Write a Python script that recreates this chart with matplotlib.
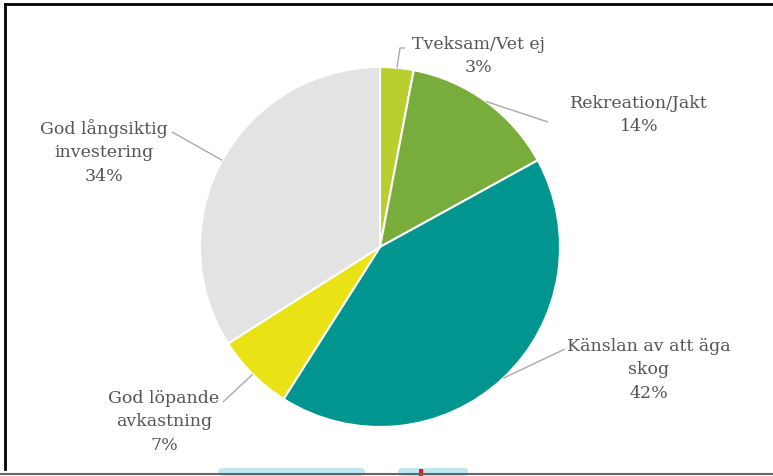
import numpy as np
import matplotlib.pyplot as plt
from matplotlib.patches import Rectangle, FancyBboxPatch

# slice data, clockwise from 12 o'clock
labels = ['Tveksam/Vet ej', 'Rekreation/Jakt', 'Känslan av att äga\nskog',
          'God löpande\navkastning', 'God långsiktig\ninvestering']
values = [3, 14, 42, 7, 34]
colors = ['#b9cf2f', '#79ad3b', '#00968f', '#e9e214', '#e3e3e3']

# label text anchors and leader-line end points (image pixels)
label_pos = [(478, 56), (639, 115), (649, 370), (164, 422), (104, 152)]
leader_end = [[(400, 49), (405, 49)], [(548, 123)], [(565, 350)],
              [(223, 403)], [(172, 133)]]

W, H = 773, 477
CX, CY, R = 380, 248, 180

fig = plt.figure(figsize=(W / 100, H / 100), dpi=100)
ax = fig.add_axes([0, 0, 1, 1])


def py(y):
    # image y (top-down) to axes y
    return H - y


wedges, _ = ax.pie(values, colors=colors, startangle=90, counterclock=False,
                   center=(CX, py(CY)), radius=R, frame=True,
                   wedgeprops=dict(edgecolor='white', linewidth=1.5))
ax.set_xlim(0, W)
ax.set_ylim(0, H)
ax.axis('off')

pcts = [f'{v}%' for v in values]
for w, lab, pct, pos, ends in zip(wedges, labels, pcts, label_pos, leader_end):
    mid = np.deg2rad((w.theta1 + w.theta2) / 2)
    x0 = CX + R * np.cos(mid)
    y0 = py(CY) + R * np.sin(mid)
    xs = [x0] + [e[0] for e in ends]
    ys = [y0] + [py(e[1]) for e in ends]
    ax.plot(xs, ys, color='#aaaaaa', lw=1, solid_capstyle='butt', zorder=3)
    ax.text(pos[0], py(pos[1]), lab + '\n' + pct, ha='center', va='center',
            fontsize=12.5, family='DejaVu Serif', color='#555555',
            linespacing=1.5)

# frame and cropped remains at the bottom of the screenshot
ax.plot([5, W], [py(5), py(5)], color='black', lw=2)
ax.plot([5, 5], [py(5), py(470)], color='black', lw=2)
ax.plot([0, W], [py(475), py(475)], color='#666666', lw=1.5)
for x0, x1 in [(218, 365), (398, 468)]:
    ax.add_patch(FancyBboxPatch((x0, py(477)), x1 - x0, 8,
                                boxstyle='round,pad=0,rounding_size=4',
                                fc='#bfe8f7', ec='none'))
ax.add_patch(Rectangle((419, py(477)), 4, 7, fc='#e8151b', ec='none'))

fig.savefig('out.png', dpi=100)
